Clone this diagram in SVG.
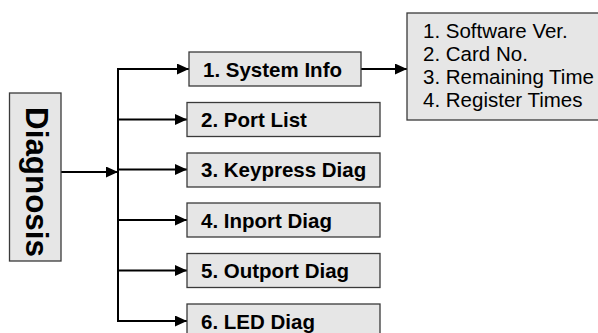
<svg xmlns="http://www.w3.org/2000/svg" width="598" height="333" viewBox="0 0 598 333">
<style>
.box{fill:#e6e6e6;stroke:#3a3a3a;stroke-width:1.3}
.lbl{font-family:"Liberation Sans",Arial,sans-serif;font-weight:bold;font-size:20.5px;fill:#000}
.lst{font-family:"Liberation Sans",Arial,sans-serif;font-size:20.5px;fill:#000}
.ln{stroke:#000;stroke-width:2;fill:none}
</style>
<defs>
<marker id="ah" markerUnits="userSpaceOnUse" markerWidth="12" markerHeight="11" refX="12" refY="5.5" orient="auto">
<path d="M0,0 L12,5.5 L0,11 z" fill="#000"/>
</marker>
</defs>
<rect width="598" height="333" fill="#fff"/>
<g id="connectors">
<line class="ln" x1="61" y1="172" x2="118" y2="172" marker-end="url(#ah)"/>
<line class="ln" x1="118" y1="69" x2="118" y2="321"/>
<line class="ln" x1="117" y1="69" x2="189" y2="69" marker-end="url(#ah)"/>
<line class="ln" x1="117" y1="119.5" x2="187" y2="119.5" marker-end="url(#ah)"/>
<line class="ln" x1="117" y1="169.5" x2="187" y2="169.5" marker-end="url(#ah)"/>
<line class="ln" x1="117" y1="220" x2="187" y2="220" marker-end="url(#ah)"/>
<line class="ln" x1="117" y1="270.5" x2="187" y2="270.5" marker-end="url(#ah)"/>
<line class="ln" x1="117" y1="321" x2="187" y2="321" marker-end="url(#ah)"/>
<line class="ln" x1="361" y1="69" x2="407" y2="69" marker-end="url(#ah)"/>
</g>
<g id="diagnosis">
<rect class="box" x="9.5" y="93" width="51.5" height="168"/>
<text transform="translate(26,107) rotate(90)" style="font-family:'Liberation Sans',Arial,sans-serif;font-weight:bold;font-size:31px" textLength="150" lengthAdjust="spacingAndGlyphs">Diagnosis</text>
</g>
<g id="system-info">
<rect class="box" x="189" y="52" width="172" height="34"/>
<text class="lbl" x="203" y="76.5">1. System Info</text>
</g>
<g id="port-list">
<rect class="box" x="187" y="102.5" width="193" height="34"/>
<text class="lbl" x="201" y="126.5">2. Port List</text>
</g>
<g id="keypress-diag">
<rect class="box" x="187" y="153" width="193" height="34"/>
<text class="lbl" x="201" y="177">3. Keypress Diag</text>
</g>
<g id="inport-diag">
<rect class="box" x="187" y="203" width="193" height="34"/>
<text class="lbl" x="201" y="227.5">4. Inport Diag</text>
</g>
<g id="outport-diag">
<rect class="box" x="187" y="253.5" width="193" height="34"/>
<text class="lbl" x="201" y="278">5. Outport Diag</text>
</g>
<g id="led-diag">
<rect class="box" x="187" y="304" width="193" height="34"/>
<text class="lbl" x="201" y="328.5">6. LED Diag</text>
</g>
<g id="info-list">
<rect class="box" x="407" y="13" width="200" height="107"/>
<text class="lst" x="423" y="37.5">1. Software Ver.</text>
<text class="lst" x="423" y="60.5">2. Card No.</text>
<text class="lst" x="423" y="83.5">3. Remaining Time</text>
<text class="lst" x="423" y="106.5">4. Register Times</text>
</g>
</svg>
